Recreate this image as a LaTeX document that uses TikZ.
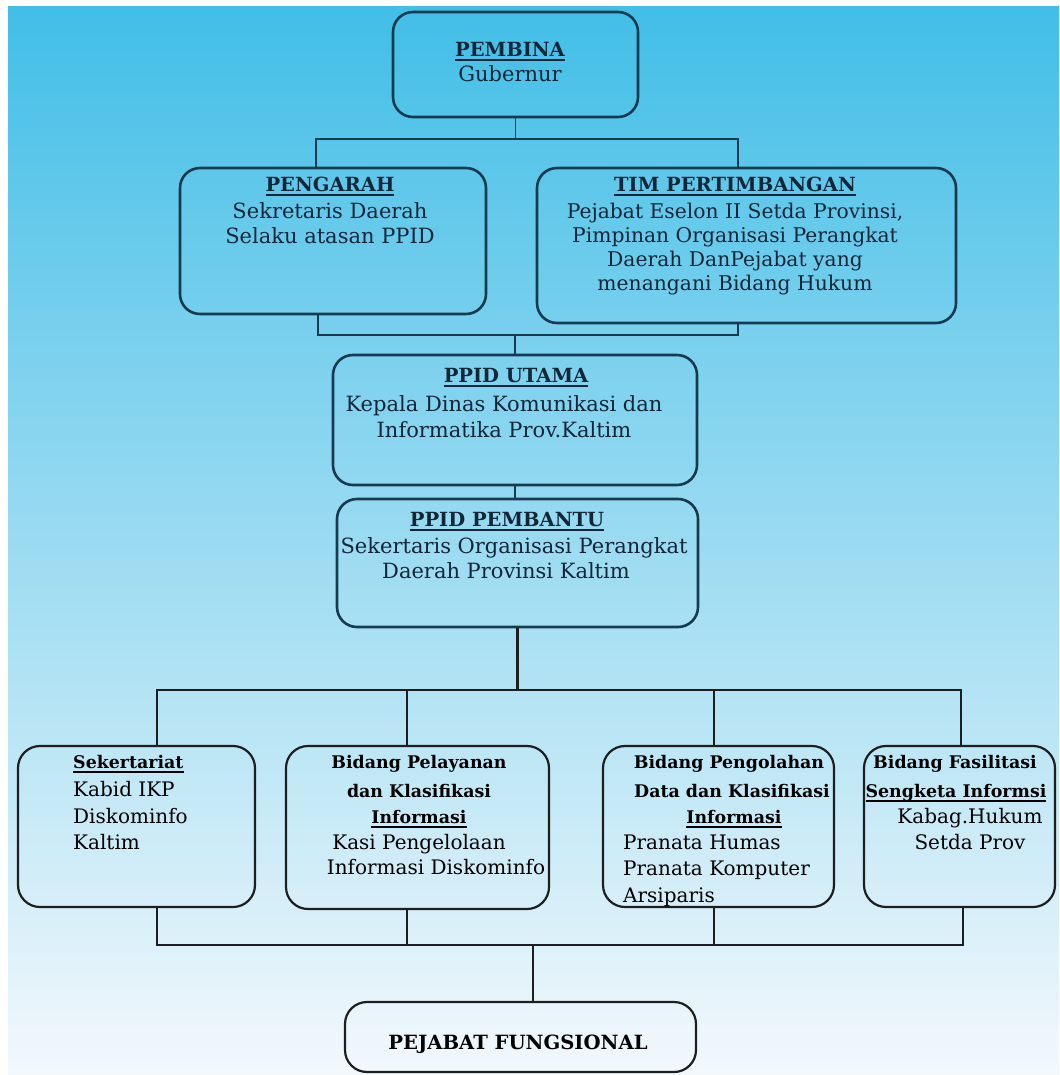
\documentclass[tikz,border=0pt]{standalone}
\usepackage{fontspec}
\setmainfont{DejaVu Serif}
\definecolor{bgtop}{RGB}{66,190,231}
\definecolor{bgmid}{RGB}{148,214,240}
\definecolor{bgbot}{RGB}{243,248,252}
\definecolor{edgeA}{RGB}{22,58,80}
\definecolor{inkA}{RGB}{18,38,58}
\definecolor{edgeB}{RGB}{28,30,32}
\newcommand\ulz[1]{\setbox0=\hbox{#1}\rlap{\raisebox{-4pt}{\rule{\wd0}{1.7pt}}}\box0}
\begin{document}
\begin{tikzpicture}[x=1pt,y=-1pt,
  boxA/.style={draw=edgeA, line width=2.6pt, rounded corners=20pt, inner sep=0pt},
  boxB/.style={draw=edgeB, line width=2.2pt, rounded corners=22pt, inner sep=0pt},
  linkA/.style={draw=edgeA, line width=1.9pt},
  linkB/.style={draw=edgeB, line width=2.1pt},
  hA/.style={text=inkA, inner sep=0pt, anchor=mid, font=\fontsize{19.5}{22}\selectfont\bfseries},
  tA/.style={text=inkA, inner sep=0pt, anchor=mid, font=\fontsize{21}{22}\selectfont},
  hB/.style={text=black, inner sep=0pt, anchor=mid, font=\fontsize{17.4}{20}\selectfont\bfseries},
  tB/.style={text=black, inner sep=0pt, anchor=mid, font=\fontsize{20}{20}\selectfont},
  tBl/.style={tB, anchor=mid west}
]
\useasboundingbox (0,0) rectangle (1059,1075);
\fill[white] (0,0) rectangle (1059,1075);
\shade[top color=bgtop, middle color=bgmid, bottom color=bgbot] (8,7) rectangle (1059,1075);

% boxes
\node[boxA, minimum width=245pt, minimum height=105pt] (pembina) at (515.5,64.5) {};
\node[boxA, minimum width=306pt, minimum height=146pt] (pengarah) at (333,241) {};
\node[boxA, minimum width=419pt, minimum height=155pt] (tim) at (746.5,245.5) {};
\node[boxA, minimum width=364pt, minimum height=130pt] (utama) at (515,420) {};
\node[boxA, minimum width=361pt, minimum height=128pt] (pembantu) at (517.5,563) {};
\node[boxB, minimum width=237pt, minimum height=161pt] (sek) at (136.5,826.5) {};
\node[boxB, minimum width=263pt, minimum height=163pt] (pel) at (417.5,827.5) {};
\node[boxB, minimum width=231pt, minimum height=161pt] (peng) at (718.5,826.5) {};
\node[boxB, minimum width=191pt, minimum height=161pt] (fas) at (959.5,826.5) {};
\node[boxB, minimum width=351pt, minimum height=70pt] (pf) at (520.5,1037) {};

% texts
\node[hA] (pembina-1) at (510,54) {\ulz{PEMBINA}};
\node[tA] (pembina-2) at (510,79) {Gubernur};

\node[hA] (pengarah-1) at (330,189) {\ulz{PENGARAH}};
\node[tA] (pengarah-2) at (330,216) {Sekretaris Daerah};
\node[tA] (pengarah-3) at (330,241) {Selaku atasan PPID};

\node[hA] (tim-1) at (735,189) {\ulz{TIM PERTIMBANGAN}};
\node[tA, font=\fontsize{20.3}{22}\selectfont] (tim-2) at (735,216) {Pejabat Eselon II Setda Provinsi,};
\node[tA, font=\fontsize{20.3}{22}\selectfont] (tim-3) at (735,240) {Pimpinan Organisasi Perangkat};
\node[tA, font=\fontsize{20.3}{22}\selectfont] (tim-4) at (735,264) {Daerah DanPejabat yang};
\node[tA, font=\fontsize{20.3}{22}\selectfont] (tim-5) at (735,288) {menangani Bidang Hukum};

\node[hA] (utama-1) at (516,380) {\ulz{PPID UTAMA}};
\node[tA] (utama-2) at (504,409) {Kepala Dinas Komunikasi dan};
\node[tA] (utama-3) at (504,435) {Informatika Prov.Kaltim};

\node[hA] (pembantu-1) at (507,524) {\ulz{PPID PEMBANTU}};
\node[tA] (pembantu-2) at (514,551) {Sekertaris Organisasi Perangkat};
\node[tA] (pembantu-3) at (506,576) {Daerah Provinsi Kaltim};

\node[hB, anchor=mid west] (sek-1) at (73,766) {\ulz{Sekertariat}};
\node[tBl] (sek-2) at (73,794) {Kabid IKP};
\node[tBl] (sek-3) at (73,821) {Diskominfo};
\node[tBl] (sek-4) at (73,847) {Kaltim};

\node[hB] (pel-1) at (419,766) {Bidang Pelayanan};
\node[hB] (pel-2) at (419,795) {dan Klasifikasi};
\node[hB] (pel-3) at (419,821) {\ulz{Informasi}};
\node[tB] (pel-4) at (419,847) {Kasi Pengelolaan};
\node[tB] (pel-5) at (436,872) {Informasi Diskominfo};

\node[hB] (peng-1) at (729,766) {Bidang Pengolahan};
\node[hB] (peng-2) at (732,795) {Data dan Klasifikasi};
\node[hB] (peng-3) at (734,821) {\ulz{Informasi}};
\node[tBl] (peng-4) at (623,847) {Pranata Humas};
\node[tBl] (peng-5) at (623,873) {Pranata Komputer};
\node[tBl] (peng-6) at (623,900) {Arsiparis};

\node[hB] (fas-1) at (955,766) {Bidang Fasilitasi};
\node[hB] (fas-2) at (956,795) {\ulz{Sengketa Informsi}};
\node[tB] (fas-3) at (970,821) {Kabag.Hukum};
\node[tB] (fas-4) at (970,847) {Setda Prov};

\node[hB, font=\fontsize{19.6}{20}\selectfont\bfseries] (pf-1) at (518,1047) {PEJABAT FUNGSIONAL};

% connectors
\coordinate (busA) at (515.5,139);
\coordinate (pengT) at ([xshift=-17pt]pengarah.north);
\coordinate (timT) at ([xshift=-8.5pt]tim.north);
\draw[linkA] (pembina.south) -- (busA);
\draw[linkA] (pengT) |- (busA) -| (timT);

\coordinate (busB) at (515,335);
\coordinate (pengB) at ([xshift=-15pt]pengarah.south);
\coordinate (timB) at ([xshift=-8.5pt]tim.south);
\draw[linkA] (pengB) |- (busB) -| (timB);
\draw[linkA] (busB) -- (utama.north);
\draw[linkA] (utama.south) -- (utama.south |- pembantu.north);

\coordinate (busC) at (517.5,690);
\coordinate (sekT) at ([xshift=20.5pt]sek.north);
\coordinate (pelT) at ([xshift=-10.5pt]pel.north);
\coordinate (pengTT) at ([xshift=-4.5pt]peng.north);
\coordinate (fasT) at ([xshift=1.5pt]fas.north);
\draw[linkB] (pembantu.south) -- (busC);
\draw[linkB] (sekT) |- (busC) -| (fasT);
\draw[linkB] (pelT) -- (pelT |- busC);
\draw[linkB] (pengTT) -- (pengTT |- busC);

\coordinate (busD) at (533,945);
\coordinate (sekB) at ([xshift=20.5pt]sek.south);
\coordinate (pelB) at ([xshift=-10.5pt]pel.south);
\coordinate (pengB2) at ([xshift=-4.5pt]peng.south);
\coordinate (fasB) at ([xshift=3.5pt]fas.south);
\coordinate (pfT) at ([xshift=12.5pt]pf.north);
\draw[linkB] (sekB) |- (busD) -| (fasB);
\draw[linkB] (pelB) -- (pelB |- busD);
\draw[linkB] (pengB2) -- (pengB2 |- busD);
\draw[linkB] (pfT |- busD) -- (pfT);
\end{tikzpicture}
\end{document}
